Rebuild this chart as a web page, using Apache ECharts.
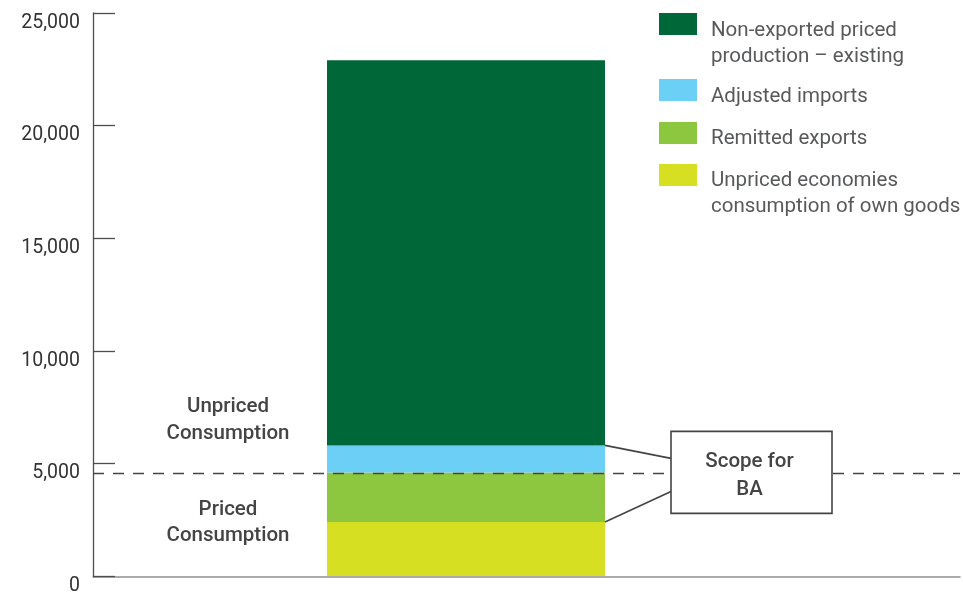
<!DOCTYPE html>
<html><head><meta charset="utf-8">
<script src="https://cdn.jsdelivr.net/npm/echarts@6/dist/echarts.min.js"></script>
<style>html,body{margin:0;padding:0;background:#fff}#c{width:963px;height:596px}</style>
</head><body><div id="c"></div>
<script>
// ---- data ----
const categories = ['Consumption'];
const nameOwnGoods = 'Unpriced economies\nconsumption of own goods';
const nameRemitted = 'Remitted exports';
const nameImports = 'Adjusted imports';
const nameNonExported = 'Non-exported priced\nproduction – existing';
const unpricedOwnGoods = [2400];
const remittedExports = [2200];
const adjustedImports = [1200];
const nonExportedPriced = [17100];
const yMin = 0, yMax = 25000, yStep = 5000;
const pricedThreshold = unpricedOwnGoods[0] + remittedExports[0];
const annotationTop = 'Unpriced\nConsumption';
const annotationBottom = 'Priced\nConsumption';
const boxText = 'Scope for\nBA';

// ---- style ----
const FONT = 'Roboto, "Noto Sans", sans-serif';
const COL = { dark: '#006838', blue: '#6BCFF6', green: '#8DC63F', yellow: '#D7DF23' };
const BAR_W = 278;

const chart = echarts.init(document.getElementById('c'), null, { renderer: 'canvas' });

// icon: 38x22 swatch at the top of a taller (transparent) item box, so the text sits lower
function legendFor(name, top, boxH) {
  return {
    left: 659, top: top, padding: 0, orient: 'vertical',
    icon: 'path://M0,0H38V22H0Z M0,' + (boxH - 0.01) + 'H0.01V' + boxH + 'H0Z',
    itemWidth: 38, itemHeight: boxH, selectedMode: false, symbolKeepAspect: false,
    data: [name],
    textStyle: {
      fontFamily: FONT, fontSize: 20.5, color: '#58595B', lineHeight: 26,
      padding: [0, 0, 0, 9]
    }
  };
}

const option = {
  animation: false,
  backgroundColor: '#fff',
  grid: [
    { left: 93, right: 124, top: 13, bottom: 19 },
    { left: 93, right: 3, top: 13, bottom: 19 }
  ],
  legend: [
    legendFor(nameNonExported, 13, 62),
    legendFor(nameImports, 79, 35),
    legendFor(nameRemitted, 122, 34),
    legendFor(nameOwnGoods, 164, 60)
  ],
  xAxis: [
    { type: 'category', gridIndex: 0, data: categories, axisLine: { show: false }, axisTick: { show: false }, axisLabel: { show: false } },
    { type: 'category', gridIndex: 1, data: [''], axisLine: { show: true, lineStyle: { color: '#8f8f8f', width: 1.5 } }, axisTick: { show: false }, axisLabel: { show: false }, z: 1 }
  ],
  yAxis: [
    { type: 'value', gridIndex: 0, min: yMin, max: yMax, interval: yStep,
      splitLine: { show: false },
      axisLine: { show: true, lineStyle: { color: '#4d4d4d', width: 1.3 } },
      axisTick: { show: true, inside: true, length: 22, lineStyle: { color: '#4d4d4d', width: 1.3 } },
      axisLabel: { margin: 13, fontFamily: FONT, fontSize: 19.5, color: '#333', verticalAlign: 'top',
        formatter: v => v.toLocaleString('en-US') },
      z: 3 },
    { type: 'value', gridIndex: 1, min: yMin, max: yMax, show: false }
  ],
  series: [
    { name: nameOwnGoods, type: 'bar', stack: 'a', barWidth: BAR_W, data: unpricedOwnGoods, itemStyle: { color: COL.yellow } },
    { name: nameRemitted, type: 'bar', stack: 'a', barWidth: BAR_W, data: remittedExports, itemStyle: { color: COL.green } },
    { name: nameImports, type: 'bar', stack: 'a', barWidth: BAR_W, data: adjustedImports, itemStyle: { color: COL.blue } },
    { name: nameNonExported, type: 'bar', stack: 'a', barWidth: BAR_W, data: nonExportedPriced, itemStyle: { color: COL.dark } },
    { type: 'line', xAxisIndex: 1, yAxisIndex: 1, data: [null], silent: true, symbol: 'none',
      markLine: { symbol: 'none', silent: true, animation: false, z: 10,
        label: { show: false },
        lineStyle: { type: [11, 9], color: '#444', width: 1.3 },
        data: [{ yAxis: pricedThreshold }] } }
  ]
};
chart.setOption(option);

// ---- annotations anchored to data ----
const cx = chart.convertToPixel({ xAxisIndex: 0 }, categories[0]);
const barRight = cx + BAR_W / 2;
const yLine = chart.convertToPixel({ yAxisIndex: 0 }, pricedThreshold);
const yBlueTop = chart.convertToPixel({ yAxisIndex: 0 }, unpricedOwnGoods[0] + remittedExports[0] + adjustedImports[0]);
const yYellowTop = chart.convertToPixel({ yAxisIndex: 0 }, unpricedOwnGoods[0]);
const boxL = barRight + 66, boxW = 161, boxH = 82;
const ink = '#444';

chart.setOption({
  graphic: [
    { type: 'line', z: 50, shape: { x1: barRight, y1: yBlueTop, x2: boxL, y2: yLine - 14 }, style: { stroke: ink, lineWidth: 1.6 } },
    { type: 'line', z: 50, shape: { x1: barRight, y1: yYellowTop, x2: boxL, y2: yLine + 19 }, style: { stroke: ink, lineWidth: 1.6 } },
    { type: 'rect', z: 60, shape: { x: boxL, y: yLine - boxH / 2, width: boxW, height: boxH }, style: { fill: '#fff', stroke: ink, lineWidth: 1.6 } },
    { type: 'text', z: 70, x: boxL + boxW / 2 - 2, y: yLine + 3,
      style: { text: boxText, fontFamily: FONT, fontSize: 20.5, fontWeight: 500, fill: ink, lineHeight: 28, align: 'center', verticalAlign: 'middle' } },
    { type: 'text', z: 70, x: 228, y: yLine - 52.5,
      style: { text: annotationTop, fontFamily: FONT, fontSize: 20.5, fontWeight: 500, fill: ink, lineHeight: 27, align: 'center', verticalAlign: 'middle' } },
    { type: 'text', z: 70, x: 228, y: yLine + 50,
      style: { text: annotationBottom, fontFamily: FONT, fontSize: 20.5, fontWeight: 500, fill: ink, lineHeight: 26, align: 'center', verticalAlign: 'middle' } }
  ]
});
</script>
</body></html>
